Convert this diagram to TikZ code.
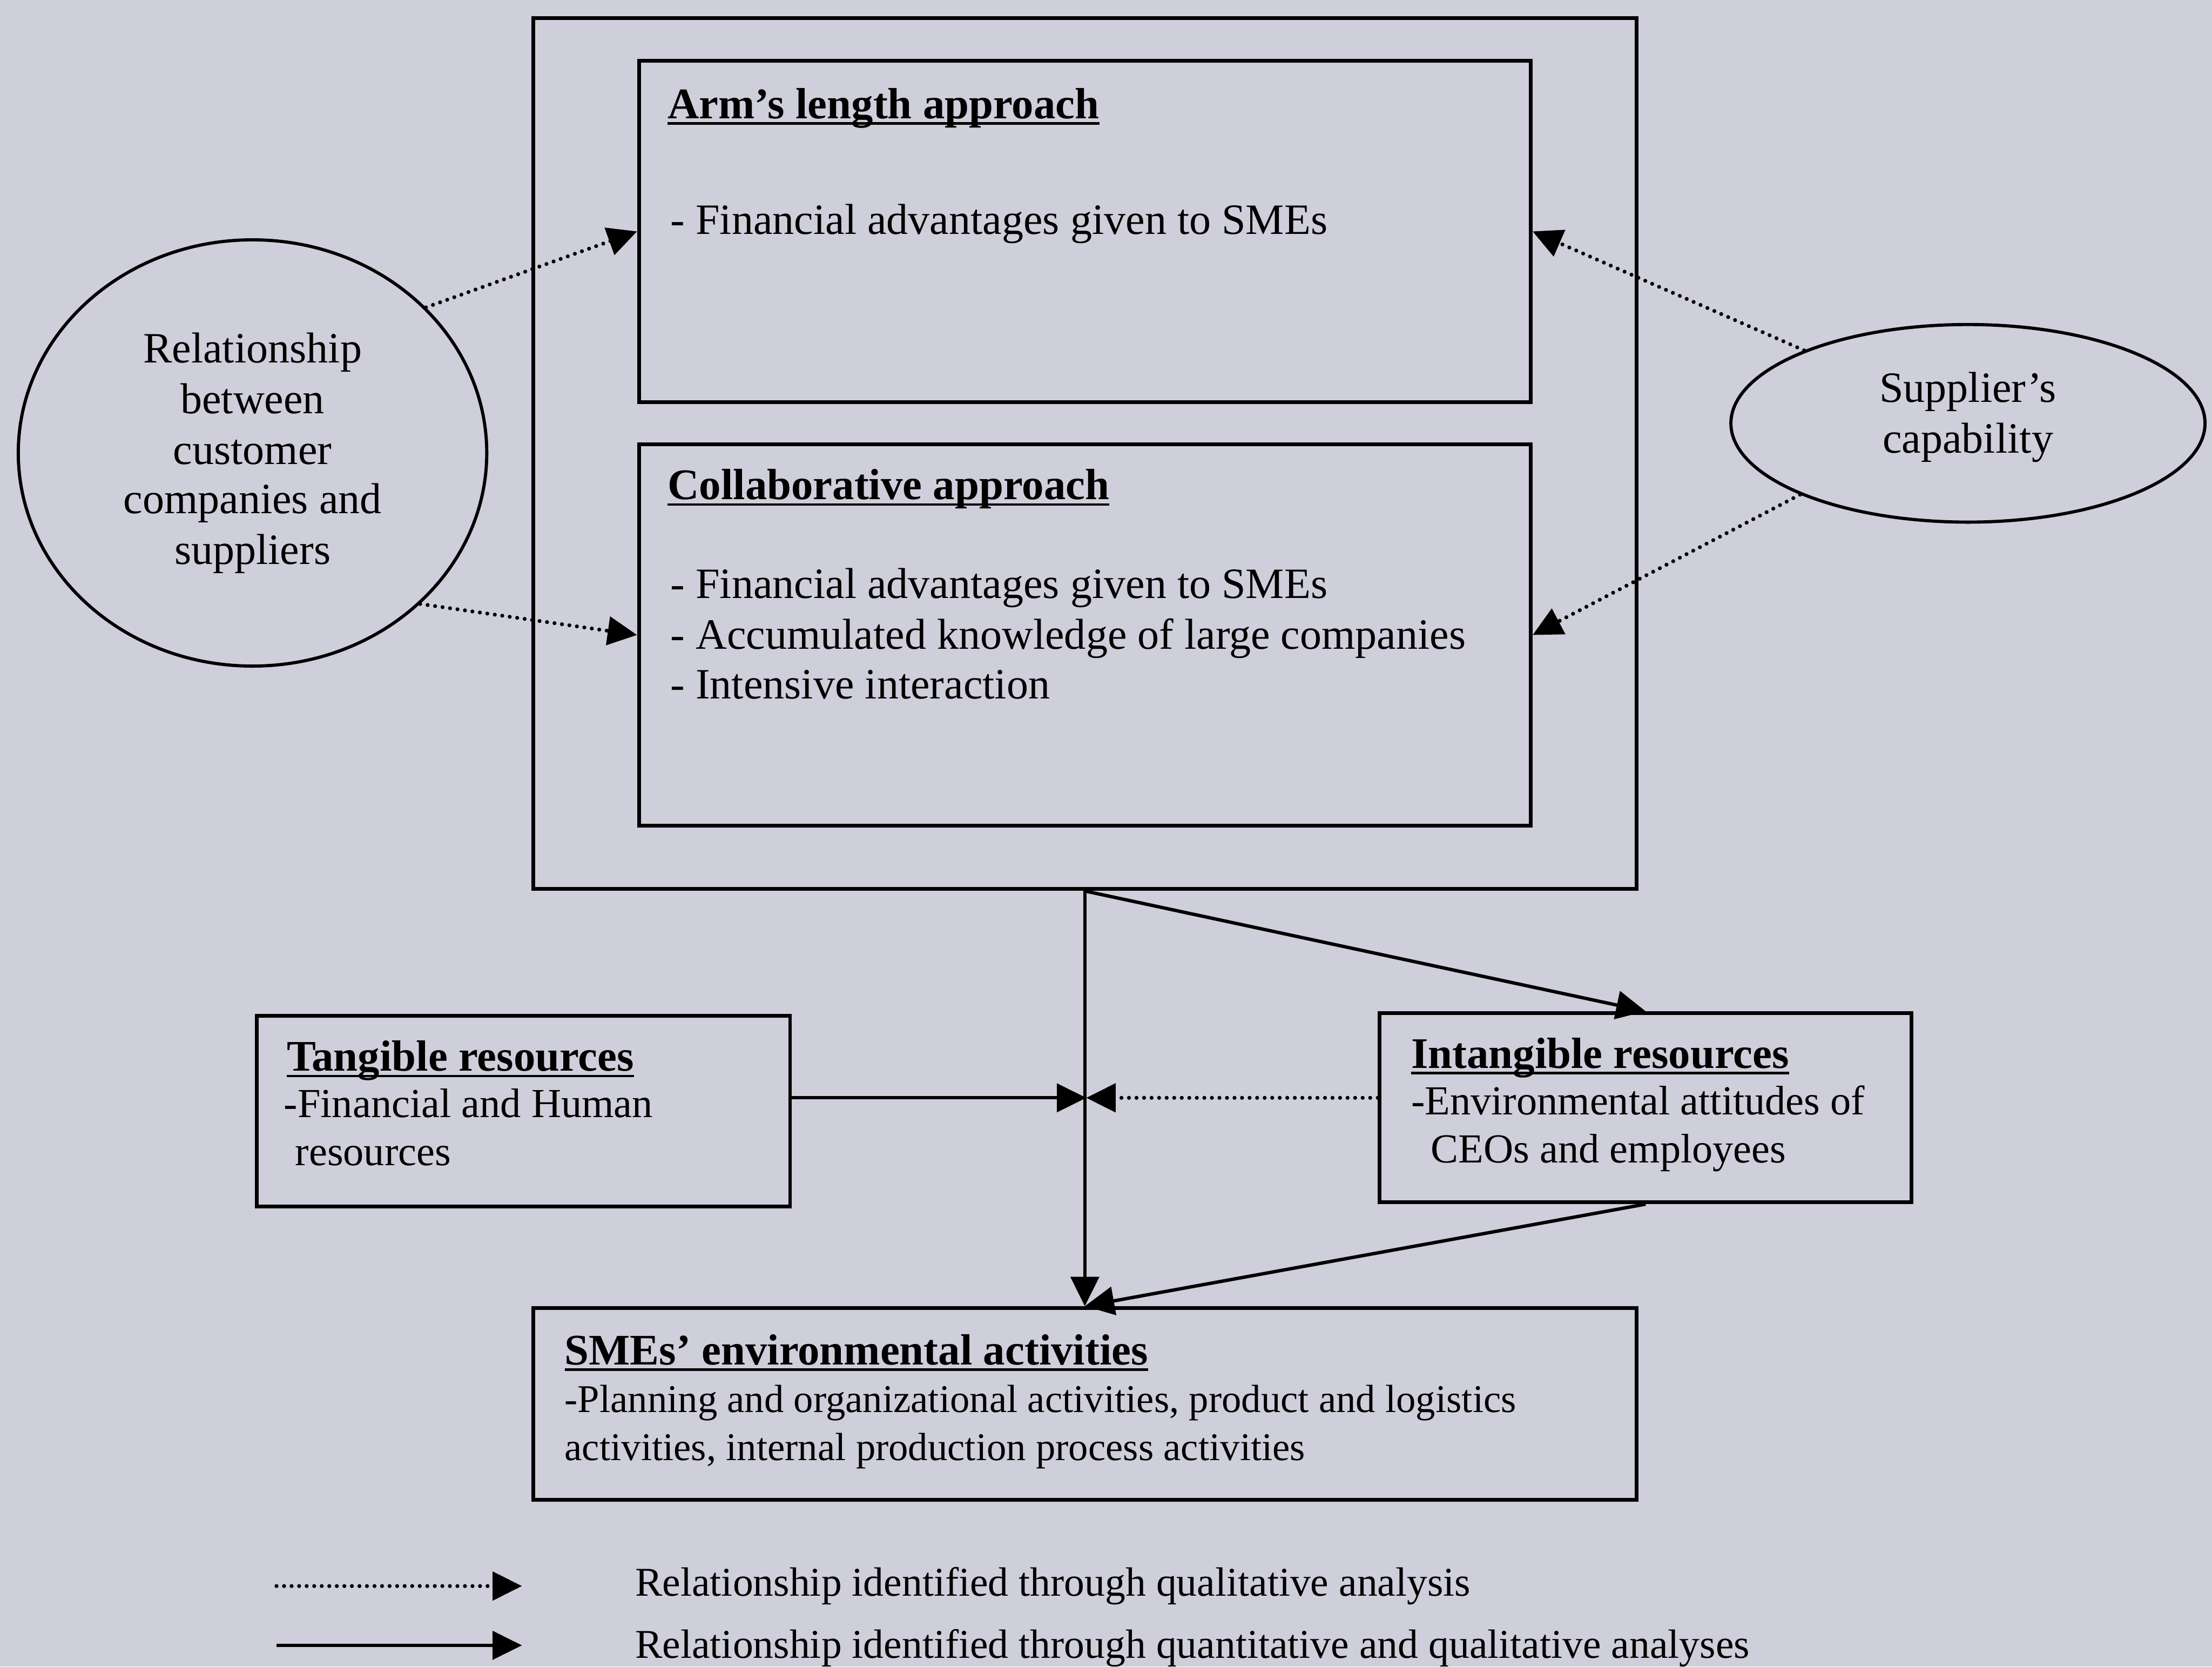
\documentclass[tikz,border=0pt]{standalone}
\usepackage{fontspec}
\setmainfont{Liberation Serif}
\usetikzlibrary{arrows.meta,shapes.geometric}
\definecolor{bgcol}{RGB}{207,207,219}
\newcommand\fbig{\fontsize{21.8}{26}\selectfont}
\newcommand\ftitle{\fontsize{22}{26}\selectfont}
\newcommand\fsmall{\fontsize{19.8}{24}\selectfont}
\newcommand\fmid{\fontsize{20.8}{24}\selectfont}
\newcommand\fleg{\fontsize{20.6}{24}\selectfont}
\newcommand\myul[1]{\leavevmode\setbox0\hbox{#1}\rlap{\rule[-3.2pt]{\wd0}{1.3pt}}\box0}
\begin{document}
\begin{tikzpicture}[x=0.025cm,y=-0.025cm,
  box/.style={draw, line width=1.9pt, rectangle, inner sep=0pt},
  oval/.style={draw, line width=1.6pt, ellipse, inner sep=0pt},
  txt/.style={anchor=base west, inner sep=0pt, font=\fbig},
  ttxt/.style={anchor=base west, inner sep=0pt, font=\ftitle},
  stxt/.style={anchor=base west, inner sep=0pt, font=\fsmall},
  mtxt/.style={anchor=base west, inner sep=0pt, font=\fmid},
  ctxt/.style={anchor=base, inner sep=0pt, font=\fbig},
  ltxt/.style={anchor=base west, inner sep=0pt, font=\fleg},
  solidarr/.style={line width=1.7pt, -{Triangle[length=0.52cm,width=0.5cm]}},
  dotarr/.style={line width=2pt, line cap=round, dash pattern=on 0pt off 3.8pt, -{Triangle[length=0.52cm,width=0.5cm]}}]
\fill[bgcol] (0,0) rectangle (1568,1181);
\useasboundingbox (0,0) rectangle (1568,1181);

% boxes
\node[box, minimum width=19.55cm, minimum height=15.425cm] (outer) at (769,321.5) {};
\node[box, minimum width=15.8cm, minimum height=6.05cm] (arm) at (769,164) {};
\node[box, minimum width=15.8cm, minimum height=6.75cm] (collab) at (769,450) {};
\node[box, minimum width=9.45cm, minimum height=3.375cm] (tang) at (371,787.5) {};
\node[box, minimum width=9.425cm, minimum height=3.35cm] (intang) at (1166.5,785) {};
\node[box, minimum width=19.55cm, minimum height=3.4cm] (sme) at (769,995) {};
\node[oval, minimum width=8.3cm, minimum height=7.55cm] (rel) at (179,321) {};
\node[oval, minimum width=8.4cm, minimum height=3.5cm] (sup) at (1395,300) {};

% texts
\node[ttxt] (armT) at (473,84) {\textbf{\myul{Arm’s length approach}}};
\node[txt] (armL1) at (475,166) {- Financial advantages given to SMEs};
\node[ttxt] (colT) at (473,354) {\textbf{\myul{Collaborative approach}}};
\node[txt] (colL1) at (475,424) {- Financial advantages given to SMEs};
\node[txt] (colL2) at (475,460) {- Accumulated knowledge of large companies};
\node[txt] (colL3) at (475,495) {- Intensive interaction};

\node[ctxt] (relL1) at (179,257) {Relationship};
\node[ctxt] (relL2) at (179,293) {between};
\node[ctxt] (relL3) at (179,329) {customer};
\node[ctxt] (relL4) at (179,364) {companies and};
\node[ctxt] (relL5) at (179,400) {suppliers};
\node[ctxt] (supL1) at (1395,285) {Supplier’s};
\node[ctxt] (supL2) at (1395,321) {capability};

\node[ttxt] (tangT) at (203,759) {\textbf{\myul{Tangible resources}}};
\node[mtxt] (tangL1) at (201,792) {-Financial and Human};
\node[mtxt] (tangL2) at (209,826) {resources};
\node[ttxt] (intT) at (1000,757) {\textbf{\myul{Intangible resources}}};
\node[mtxt] (intL1) at (1000,790) {-Environmental attitudes of};
\node[mtxt] (intL2) at (1014,824) {CEOs and employees};
\node[ttxt] (smeT) at (400,967) {\textbf{\myul{SMEs’ environmental activities}}};
\node[stxt] (smeL1) at (400,1001) {-Planning and organizational activities, product and logistics};
\node[stxt] (smeL2) at (400,1035) {activities, internal production process activities};

% connectors
\draw[dotarr] (rel.40) -- (arm.west);
\draw[dotarr] (rel.-42) -- (collab.west);
\draw[dotarr] (sup.156) -- (arm.east);
\draw[dotarr] (sup.203) -- (collab.east);

\coordinate (J) at (770,778);
\draw[solidarr] (outer.south) -- (sme.north);
\draw[solidarr] (outer.south) -- (intang.north);
\draw[solidarr] (tang.east |- J) -- (J);
\draw[dotarr] (intang.west |- J) -- (J);
\draw[solidarr] (intang.south) -- (sme.north);

% legend
\coordinate (d1) at (196,1124);
\coordinate (d2) at (370,1124);
\coordinate (s1) at (196,1166);
\coordinate (s2) at (370,1166);
\draw[dotarr] (d1) -- (d2);
\draw[solidarr] (s1) -- (s2);
\node[ltxt] (leg1) at (450,1131) {Relationship identified through qualitative analysis};
\node[ltxt] (leg2) at (450,1175) {Relationship identified through quantitative and qualitative analyses};
\end{tikzpicture}
\end{document}
